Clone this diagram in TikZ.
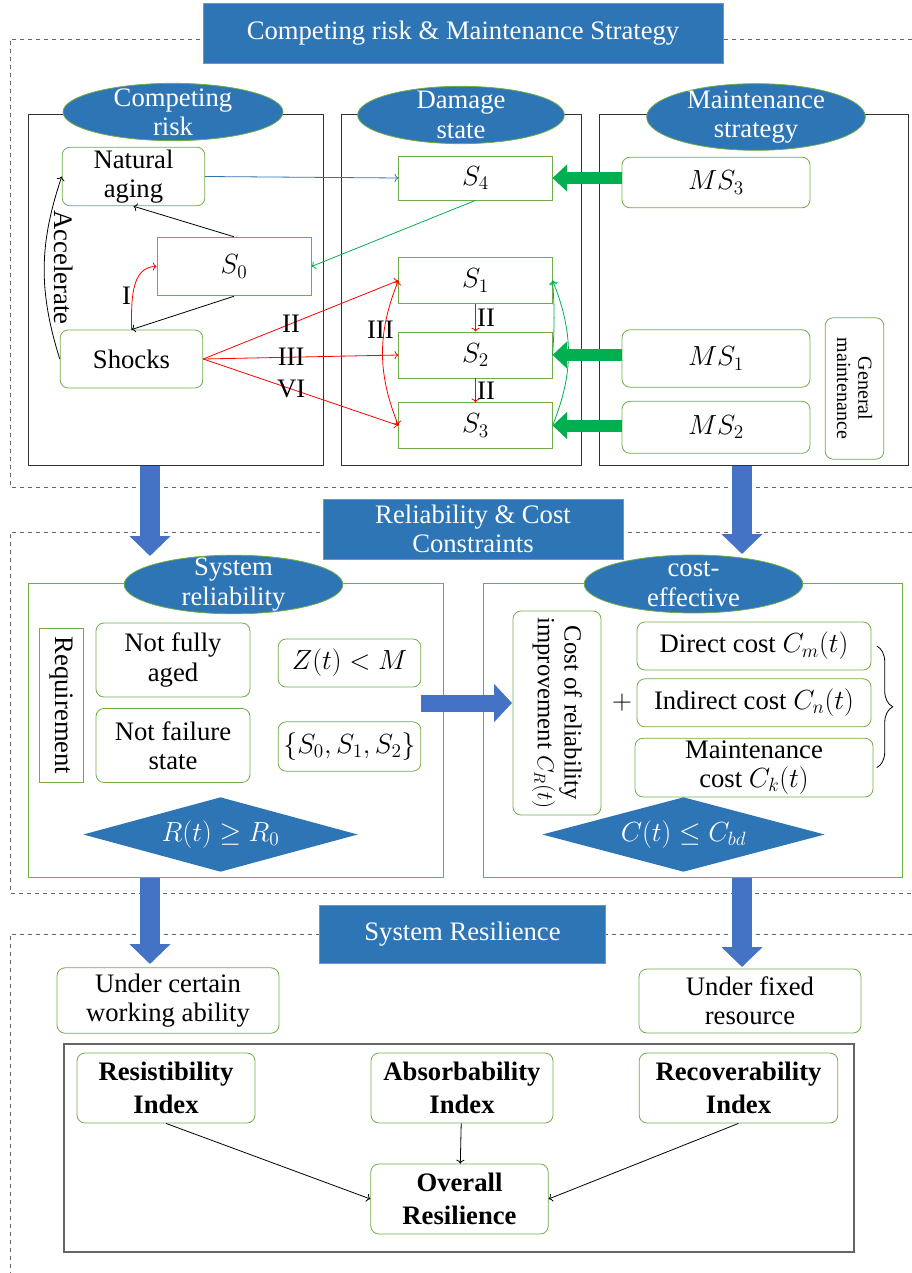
\documentclass[tikz,border=0pt]{standalone}
\usepackage{fontspec}
\setmainfont{Liberation Serif}
\usepackage{xcolor}
\usepackage{tikz}
\usetikzlibrary{positioning, shapes.geometric, arrows.meta, decorations.pathreplacing}
\definecolor{blu}{HTML}{2E75B6}
\definecolor{grn}{HTML}{70AD47}
\definecolor{arrblue}{HTML}{4472C4}
\definecolor{arrgreen}{HTML}{00B050}

\begin{document}
\begin{tikzpicture}[x=0.75pt, y=-0.75pt, font=\fontsize{20}{22}\selectfont, line width=0.6pt]
            \tikzstyle{rbox} = [draw=grn, rounded corners=6pt, align=center, inner sep=0pt]
            \tikzstyle{sbox} = [draw=grn, align=center, inner sep=0pt]
            \tikzstyle{head} = [draw=grn, fill=blu, text=white, align=center, inner sep=0pt]
            \tikzstyle{oval} = [ellipse, draw=grn, fill=blu, text=white, align=center, inner xsep=0pt, inner ysep=-6pt]
            \tikzstyle{gem} = [diamond, fill=blu, text=white, inner sep=0pt, aspect=3.7]
            \tikzstyle{lbl} = [inner sep=1pt, text=black]
            \tikzstyle{fat} = [draw=arrblue, line width=15pt, -{Triangle[length=15pt, width=30pt]}]
            \tikzstyle{push} = [draw=arrgreen, line width=9pt, -{Triangle[length=11pt, width=20pt]}]
            \tikzstyle{idx} = [rbox, font=\fontsize{20}{25}\selectfont\bfseries, minimum height=52.5pt]

            \useasboundingbox (0,0) rectangle (912,1273);

            \draw [dashed, black!60] (912,39) -- (10,39) -- (10,487) -- (912,487);
            \draw [dashed, black!60] (912,532) -- (10,532) -- (10,893) -- (912,893);
            \draw [dashed, black!60] (912,934) -- (10,934) -- (10,1273);

            \draw [black!80] (28,114) rectangle (323,465);
            \draw [black!80] (341,114) rectangle (581,465);
            \draw [black!80] (599,114) rectangle (908,465);
            \draw [grn] (28,583) rectangle (443,877);
            \draw [grn] (483,583) rectangle (902,877);
            \draw [black!60, line width=1.2pt] (64,1044) rectangle (854,1252);

            \node [head, minimum width=390pt, minimum height=45pt] (top) at (463,33) {Competing risk \& Maintenance Strategy};
            \node [oval, minimum width=165pt, minimum height=43pt] (cr) at (173,112) {Competing\\risk};
            \node [oval, minimum width=155pt, minimum height=43pt] (ds) at (461,115) {Damage\\state};
            \node [oval, minimum width=164pt, minimum height=50pt] (ms) at (756,117) {Maintenance\\strategy};

            \node [rbox, minimum width=107pt, minimum height=44pt] (aging) at (133.5,176.5) {Natural\\aging};
            \node [sbox, minimum width=115.5pt, minimum height=44pt] (S0) at (234,266.5) {$S_0$};
            \node [rbox, minimum width=107pt, minimum height=43.5pt] (shocks) at (131.5,359) {Shocks};

            \node [sbox, minimum width=115pt, minimum height=33pt] (S4) at (475.5,178) {$S_4$};
            \node [sbox, minimum width=115pt, minimum height=34pt] (S1) at (475.5,280.5) {$S_1$};
            \node [sbox, minimum width=115pt, minimum height=34.5pt] (S2) at (475.5,355) {$S_2$};
            \node [sbox, minimum width=115pt, minimum height=34pt] (S3) at (475.5,425.5) {$S_3$};

            \node [rbox, minimum width=141pt, minimum height=38pt] (MS3) at (716,182.5) {$MS_3$};
            \node [rbox, minimum width=141pt, minimum height=43pt] (MS1) at (716,358.5) {$MS_1$};
            \node [rbox, minimum width=141pt, minimum height=39pt, below=10pt of MS1] (MS2) {$MS_2$};
            \node [rbox, rotate=-90, minimum width=106pt, minimum height=44pt, font=\fontsize{15}{16}\selectfont] (gm) at (854.5,388.5) {General\\maintenance};

            \draw [->] (shocks.west) to[bend left=18] node[midway, rotate=-90, anchor=south, inner sep=7pt] {Accelerate} (aging.west);
            \draw [->] (S0.north) -- (aging.south);
            \draw [->] (S0.south) -- (shocks.north);
            \draw [red, ->] (shocks.north) to[out=90, in=180] node[pos=0.4, left, lbl] {I} (S0.west);
            \draw [blu, ->] (aging.east) -- (S4.west);
            \draw [arrgreen, ->] (S4.south) -- (S0.east);
            \draw [red, ->] (shocks.east) -- node[pos=0.45, lbl] {II} (S1.west);
            \draw [red, ->] (shocks.east) -- node[pos=0.45, lbl] {III} (S2.west);
            \draw [red, ->] (shocks.east) -- node[pos=0.45, lbl] {VI} (S3.west);
            \draw [red, <->] (S1.west) to[bend right=22] node[pos=0.33, lbl, xshift=-3pt] {III} (S3.west);
            \draw [red, ->] (S1) -- node[right, lbl] {II} (S2);
            \draw [red, ->] (S2) -- node[right, lbl] {II} (S3);
            \draw [arrgreen, ->] (S3.east) to[bend right=22] (S1.east);
            \draw [arrgreen, ->] (S2.east) to[bend right=4] (S1.east);

            \draw [push] (MS3.west |- S4.east) -- (S4.east);
            \draw [push] (MS1.west |- S2.east) -- (S2.east);
            \draw [push] (MS2.west |- S3.east) -- (S3.east);

            \node [head, minimum width=225pt, minimum height=45pt] (mid) at (473,529) {Reliability \& Cost\\Constraints};
            \node [oval, minimum width=164pt, minimum height=44pt] (sr) at (233.5,584.5) {System\\reliability};
            \node [oval, minimum width=164pt, minimum height=43.5pt] (ce) at (693.5,584) {cost-\\effective};

            \node [sbox, rotate=-90, minimum width=116pt, minimum height=33pt] (req) at (61,705.5) {Requirement};
            \node [rbox, minimum width=115.5pt, minimum height=55.5pt] (nfa) at (173,660) {Not fully\\aged};
            \node [rbox, minimum width=115.5pt, minimum height=55.5pt, below=8pt of nfa] (nfs) {Not failure\\state};
            \node [rbox, minimum width=107pt, minimum height=36pt] (zt) at (349.5,663) {$Z(t)<M$};
            \node [rbox, minimum width=107pt, minimum height=37pt] (set) at (349.5,746.5) {$\{S_0,S_1,S_2\}$};
            \node [gem, minimum width=206pt, minimum height=56pt] (rel) at (220.5,834.5) {$R(t)\geq R_0$};

            \node [rbox, rotate=-90, minimum width=153pt, minimum height=66pt, font=\fontsize{18.5}{20}\selectfont] (cri) at (557,713) {Cost of reliability\\improvement $C_R(t)$};
            \node (plus) at (622,703) {$+$};
            \node [rbox, minimum width=175.5pt, minimum height=36pt] (dc) at (754,646) {Direct cost $C_m(t)$};
            \node [rbox, minimum width=175.5pt, minimum height=36pt, below=6pt of dc] (ic) {Indirect cost $C_n(t)$};
            \node [rbox, minimum width=178.5pt, minimum height=44pt, below=8pt of ic] (mc) {Maintenance\\cost $C_k(t)$};
            \draw [decorate, decoration={brace, amplitude=12pt}] ([xshift=4pt]dc.east) -- ([xshift=4pt]dc.east |- mc);
            \node [gem, minimum width=212pt, minimum height=56pt] (cost) at (683.5,834.5) {$C(t)\leq C_{bd}$};

            \node [head, minimum width=214pt, minimum height=44pt] (bot) at (462.5,934.5) {System Resilience};
            \node [rbox, minimum width=166.5pt, minimum height=49pt] (uca) at (168,1000.5) {Under certain\\working ability};
            \node [rbox, minimum width=166.5pt, minimum height=48pt] (ufr) at (750,1001) {Under fixed\\resource};

            \node [idx, minimum width=133.5pt] (ri) at (166,1088) {Resistibility\\Index};
            \node [idx, minimum width=136.5pt] (ai) at (462,1088) {Absorbability\\Index};
            \node [idx, minimum width=149pt] (rci) at (738.5,1088) {Recoverability\\Index};
            \node [idx, minimum width=133pt] (ovr) at (459.5,1199) {Overall\\Resilience};

            \draw [->] (ri.south) -- (ovr.west);
            \draw [->] (ai) -- (ovr);
            \draw [->] (rci.south) -- (ovr.east);

            \coordinate (c1) at (150,466);
            \coordinate (c1e) at (150,556);
            \coordinate (c2) at (742,466);
            \coordinate (c2e) at (742,554);
            \coordinate (c3) at (150,878);
            \coordinate (c3e) at (150,964);
            \coordinate (c4) at (742,878);
            \coordinate (c4e) at (742,967);
            \coordinate (c5) at (421,703);
            \coordinate (c5e) at (512,703);
            \draw [fat] (c1) -- (c1e);
            \draw [fat] (c2) -- (c2e);
            \draw [fat] (c3) -- (c3e);
            \draw [fat] (c4) -- (c4e);
            \draw [fat, line width=12.75pt, -{Triangle[length=13.5pt, width=28pt]}] (c5) -- (c5e);
\end{tikzpicture}
\end{document}
